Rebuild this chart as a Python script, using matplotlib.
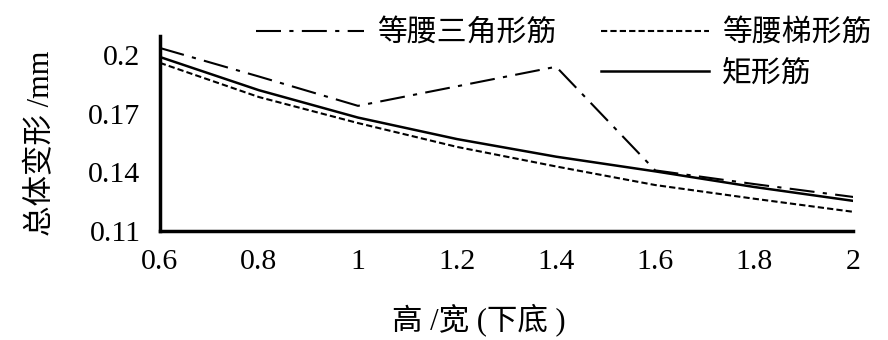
import matplotlib
matplotlib.use("Agg")
import matplotlib.pyplot as plt
from matplotlib.lines import Line2D

plt.rcParams['font.family'] = ['Liberation Serif', 'Noto Sans CJK SC', 'DejaVu Sans']

x = [0.6, 0.8, 1.0, 1.2, 1.4, 1.6, 1.8, 2.0]
triangle = [0.2036, 0.189, 0.174, 0.184, 0.194, 0.141, 0.134, 0.1274]
trapezoid = [0.196, 0.1785, 0.1652, 0.153, 0.143, 0.1335, 0.1265, 0.1198]
rectangle = [0.199, 0.182, 0.168, 0.157, 0.148, 0.1405, 0.1325, 0.1254]
labels = ['等腰三角形筋', '等腰梯形筋', '矩形筋']
xticks = [0.6, 0.8, 1, 1.2, 1.4, 1.6, 1.8, 2]
xticklabels = ['0.6', '0.8', '1', '1.2', '1.4', '1.6', '1.8', '2']
yticks = [0.11, 0.14, 0.17, 0.2]
yticklabels = ['0.11', '0.14', '0.17', '0.2']

fig = plt.figure(figsize=(8.88, 3.4), dpi=100)
ax = fig.add_axes([0.180, 0.3206, 0.781, 0.5734])

l1, = ax.plot(x, triangle, color='black', lw=1.5, dashes=(12, 4, 2, 4), label=labels[0])
l2, = ax.plot(x, trapezoid, color='black', lw=1.5, dashes=(3, 1.5), label=labels[1])
l3, = ax.plot(x, rectangle, color='black', lw=1.8, label=labels[2])

ax.set_xlim(0.6, 2.0)
ax.set_ylim(0.11, 0.2097)
ax.set_xticks(xticks)
ax.set_xticklabels(xticklabels)
ax.set_yticks(yticks)
ax.set_yticklabels(yticklabels)
ax.tick_params(axis='both', length=0, labelsize=21.5)
ax.tick_params(axis='y', pad=14)
ax.tick_params(axis='x', pad=13)
for s in ['top', 'right']:
    ax.spines[s].set_visible(False)
for s in ['left', 'bottom']:
    ax.spines[s].set_linewidth(2.5)

ax.set_ylabel('总体变形 /mm', fontsize=22)
ax.yaxis.set_label_coords(-0.150, 0.45)
ax.set_xlabel('高 /宽 (下底 )', fontsize=22)
ax.xaxis.set_label_coords(0.46, -0.37)

blank = Line2D([], [], color='none')
leg = fig.legend([l1, blank, l2, l3], [labels[0], '', labels[1], labels[2]],
                 ncol=2, loc='upper right', bbox_to_anchor=(1.005, 1.005),
                 frameon=False, fontsize=21.5, handlelength=3.6, handletextpad=0.45,
                 columnspacing=1.5, labelspacing=0.45, borderpad=0.2)

fig.savefig('out.png', dpi=100)
